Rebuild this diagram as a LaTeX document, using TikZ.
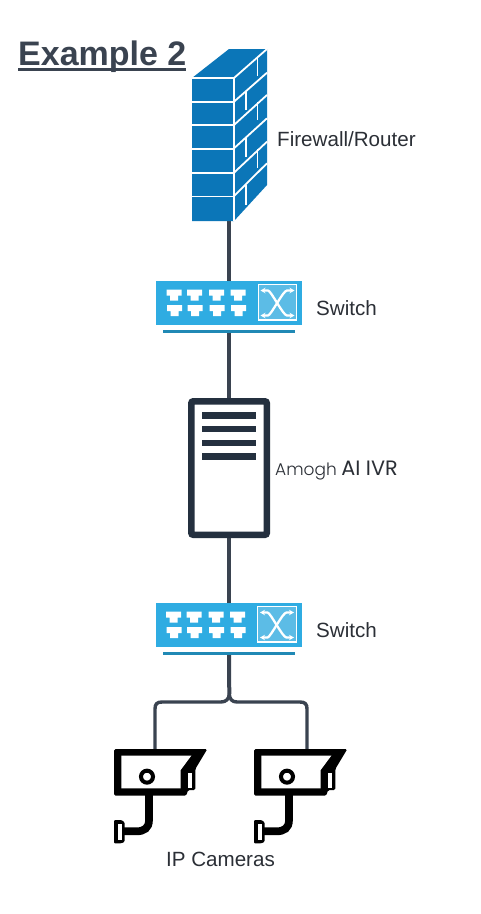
\documentclass[tikz,border=0pt]{standalone}
\usetikzlibrary{arrows.meta}
\usepackage{fontspec}
\setmainfont{Liberation Sans}
\newfontfamily\thinfont{Poppins Light}
\newfontfamily\medfont{Poppins}
\definecolor{ink}{HTML}{3A4350}
\definecolor{fwblue}{HTML}{0B76B8}
\definecolor{swblue}{HTML}{2FACE2}
\definecolor{swdark}{HTML}{2089B5}
\definecolor{swlight}{HTML}{5CBCE6}
\definecolor{srvink}{HTML}{24303F}
\definecolor{txt}{HTML}{2B2F36}
\tikzset{
  anchorbox/.style={inner sep=0pt,outer sep=0pt,draw=none,fill=none,rectangle},
  link/.style={draw=ink,line width=4.6pt},
  bus/.style={draw=ink,line width=3.4pt},
  label/.style={text=txt,anchor=west,font=\fontsize{20.6}{24}\selectfont,inner sep=0pt},
  port/.style={fill=white,draw=none},
  brick/.style={draw=white,line width=1.8pt},
  swarrow/.style={white,line width=2.3pt,line join=round,{Stealth[length=5pt,width=5.5pt]}-{Stealth[length=5pt,width=5.5pt]}},
}
\newcommand{\swglyph}[2]{%
  \begin{scope}[shift={(#1,#2)}]
    \fill[swblue] (0,0) rectangle (146,44);
    \fill[swdark] (7,49) rectangle (139,52);
    \foreach \px in {10.5,31,53,74.5}{
      \fill[port] (\px,8.5) -- ++(15,0) -- ++(0,6) -- ++(-3.5,0) -- ++(0,5) -- ++(-8,0) -- ++(0,-5) -- ++(-3.5,0) -- cycle;
      \fill[port] (\px+0.5,24) -- ++(15,0) -- ++(0,6) -- ++(-3.5,0) -- ++(0,5) -- ++(-8,0) -- ++(0,-5) -- ++(-3.5,0) -- cycle;
    }
    \fill[swlight,draw=white,line width=1.2pt] (102.3,3.5) rectangle (140.7,39);
    \draw[swarrow] (104.5,9.5) -- (112,9.5) .. controls (115,9.5) and (127,34.5) .. (131,34.5) -- (138.5,34.5);
    \draw[swarrow] (104.5,34.5) -- (112,34.5) .. controls (115,34.5) and (127,9.5) .. (131,9.5) -- (138.5,9.5);
  \end{scope}}
\newcommand{\camglyph}[1]{%
  \begin{scope}[shift={(#1,745)},x=0.3333pt,y=-0.3333pt]
    \fill[black,rounded corners=1.5pt] (18,12) -- (298,12) -- (262,72) -- (262,135) -- (240,135) -- (235,152) -- (18,152) -- cycle;
    \fill[white] (40,32) -- (250,32) -- (218,75) -- (218,130) -- (40,130) -- cycle;
    \fill[white] (240,85) rectangle (252,130);
    \draw[black,line width=4pt] (117,95) circle (18);
    \draw[black,line width=7.7pt] (123,148) -- (123,225) .. controls (123,250) and (108,259) .. (85,259) -- (46,259);
    \fill[black,rounded corners=1pt] (18,225) -- (40,225) -- (50,232) -- (50,290) -- (40,295) -- (18,295) -- cycle;
    \fill[white] (29,236) rectangle (42,284);
  \end{scope}}
\begin{document}
\begin{tikzpicture}[x=1pt,y=-1pt]
\useasboundingbox (0,0) rectangle (481,914);
\fill[white] (0,0) rectangle (481,914);
% anchors of the icons
\node[anchorbox,minimum width=76pt,minimum height=143pt] (fw) at (229,149.5) {};
\node[anchorbox,minimum width=146pt,minimum height=52pt] (swa) at (229,307) {};
\node[anchorbox,minimum width=82pt,minimum height=140pt] (srv) at (229,468) {};
\node[anchorbox,minimum width=146pt,minimum height=52pt] (swb) at (229,629) {};
\node[anchorbox,minimum width=10pt,minimum height=10pt] (cama) at (155,754) {};
\node[anchorbox,minimum width=10pt,minimum height=10pt] (camb) at (307,754) {};
\coordinate (split) at (229.3,694);
% connectors
\draw[link] (fw.south) -- (swa.north);
\draw[link] (swa.south) -- (srv.north);
\draw[link] (srv.south) -- (swb.north);
\draw[bus,line width=4pt] (swb.south) -- (split);
\draw[bus] (cama.center) -- (155,709) .. controls (155,704) and (157,702) .. (162,702) -- (221,702) .. controls (226,702) and (229,699) .. (split.center);
\draw[bus] (camb.center) -- (307,709) .. controls (307,704) and (305,702) .. (300,702) -- (237,702) .. controls (232,702) and (229.5,699) .. (split.center);
% firewall
\fill[fwblue] (192,78) -- (229,49) -- (267,49) -- (267,185) -- (234,221) -- (192,221) -- cycle;
\draw[brick] (192,78) -- (234,78) -- (267,49);
\draw[brick] (234,78) -- (234,221);
\foreach \yy in {101.7,125,148.6,172.7,196.5}{\draw[brick] (192,\yy) -- (234,\yy);}
\draw[brick] (234,101.7) -- (267,72.7);
\draw[brick] (234,125) -- (267,95);
\draw[brick] (234,148.3) -- (267,118.3);
\draw[brick] (234,172.7) -- (267,141.7);
\draw[brick] (234,196) -- (267,163.3);
\draw[brick] (257.5,58) -- (257.5,76);
\draw[brick] (246,91) -- (246,110);
\draw[brick] (257.5,102) -- (257.5,120);
\draw[brick] (246,137) -- (246,157);
\draw[brick] (257.5,149) -- (257.5,168);
\draw[brick] (246,185) -- (246,205);
% switches
\swglyph{156}{281}
\swglyph{155.5}{603}
% server
\draw[srvink,line width=6.5pt,rounded corners=2pt,fill=white] (191.3,401.3) rectangle (266.8,534.8);
\foreach \yy in {412.3,425.7,440,453.3}{\fill[srvink] (202,\yy) rectangle (256,\yy+6.3);}
% cameras
\camglyph{108}
\camglyph{248}
% texts
\node[anchor=base west,inner sep=0pt,text=ink,font=\bfseries\fontsize{34}{40}\selectfont] (title) at (18,65) {Example 2};
\fill[ink] (18,67.7) rectangle (186,70.7);
\node[label] (tfw) at (277,139) {Firewall/Router};
\node[label] (tswa) at (316,308) {Switch};
\node[label] (tsrv) at (275,471) {{\thinfont\fontsize{17}{22}\selectfont Amogh}\hspace{4.5pt}{\medfont\fontsize{20.8}{22}\selectfont AI IVR}};
\node[label] (tswb) at (316,630) {Switch};
\node[label,anchor=center] (tcam) at (220.5,859) {IP Cameras};
\end{tikzpicture}
\end{document}
